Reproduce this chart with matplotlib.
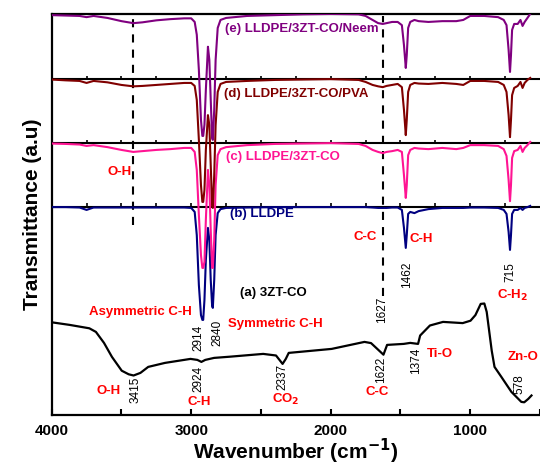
import numpy as np
import matplotlib
matplotlib.use("Agg")
import matplotlib.pyplot as plt

plt.rcParams['font.family'] = ['Liberation Sans', 'DejaVu Sans']

# wavenumber grid shared by the LLDPE film spectra (cm-1)
wn_film = [4000, 3900, 3800, 3750, 3700, 3600, 3500, 3415, 3350, 3250,
           3150, 3050, 3000, 2975, 2960, 2945, 2930, 2920, 2914, 2905,
           2895, 2880, 2870, 2860, 2850, 2845, 2835, 2825, 2810, 2790,
           2750, 2600, 2400, 2200, 2000, 1800, 1750, 1700, 1660, 1627,
           1600, 1560, 1520, 1490, 1475, 1462, 1455, 1445, 1430, 1400,
           1370, 1300, 1200, 1100, 1050, 1000, 900, 800, 760, 740,
           725, 715, 708, 700, 685, 660, 640, 625, 610, 590, 570]

# stacked transmittance (a.u.)
t_neem = [100.1, 100.0, 99.9, 99.6, 99.9, 99.4, 98.6, 98.1, 98.3, 98.8,
          99.1, 99.3, 99.3, 98.4, 95.2, 86.4, 73.9, 69.9, 69.9, 72.7,
          81.4, 92.2, 88.9, 78.9, 69.4, 68.9, 76.4, 88.9, 96.9, 98.9,
          99.4, 99.9, 100.1, 100.3, 100.4, 100.3, 99.9, 98.9, 98.1, 97.9,
          98.1, 98.4, 98.4, 97.6, 92.6, 86.9, 90.1, 96.9, 98.4, 98.9,
          98.6, 98.4, 98.6, 98.6, 98.9, 99.9, 99.9, 99.6, 98.9, 97.6,
          91.4, 85.9, 90.1, 96.4, 97.9, 97.9, 98.9, 97.4, 98.4, 99.4, 100.4]

t_pva = [84.0, 83.8, 83.65, 83.15, 83.65, 83.3, 82.65, 82.3, 82.4, 82.65,
         82.9, 83.15, 83.15, 82.4, 78.9, 68.9, 57.6, 53.4, 53.4, 56.4,
         66.4, 75.1, 72.6, 62.6, 52.6, 51.9, 60.1, 72.6, 80.9, 82.9,
         83.4, 83.65, 83.9, 84.0, 84.1, 83.9, 83.4, 82.65, 82.3, 82.1,
         82.4, 82.65, 82.9, 82.1, 76.4, 70.1, 73.9, 80.9, 82.65, 83.15,
         83.0, 82.9, 83.15, 82.9, 82.65, 83.65, 83.65, 83.4, 82.65, 80.9,
         75.1, 69.6, 73.9, 80.1, 81.9, 82.4, 83.4, 81.9, 83.15, 83.9, 84.4]

t_zt = [68.0, 67.9, 67.75, 67.4, 67.6, 67.1, 66.4, 65.9, 66.1, 66.4,
        66.6, 66.9, 66.9, 65.9, 61.4, 50.1, 40.1, 36.9, 36.9, 38.4,
        48.9, 61.4, 57.6, 46.4, 36.9, 36.9, 43.9, 57.6, 65.1, 66.6,
        67.1, 67.6, 67.9, 68.0, 68.1, 67.9, 67.4, 66.4, 65.9, 65.6,
        65.9, 66.1, 66.4, 65.9, 60.1, 54.4, 57.6, 65.1, 66.4, 66.9,
        66.75, 66.6, 66.9, 66.6, 66.9, 67.6, 67.6, 67.4, 66.6, 64.9,
        58.9, 53.6, 57.6, 64.4, 66.1, 66.4, 67.4, 65.9, 66.9, 67.6, 68.4]

t_lldpe = [52.1, 52.1, 52.0, 51.4, 52.0, 52.0, 52.0, 52.0, 52.0, 52.0,
           52.0, 52.0, 51.9, 50.9, 45.1, 32.6, 25.1, 23.9, 23.9, 28.9,
           38.9, 46.9, 43.9, 33.9, 27.4, 26.9, 33.9, 45.1, 50.6, 51.6,
           51.9, 52.0, 52.1, 52.1, 52.1, 52.1, 52.1, 52.0, 51.9, 51.9,
           51.9, 52.0, 52.0, 51.4, 46.9, 41.9, 45.1, 50.4, 50.9, 50.6,
           51.1, 51.6, 51.9, 51.9, 51.9, 52.0, 52.0, 51.9, 51.4, 50.4,
           45.9, 41.4, 45.1, 50.4, 51.4, 51.4, 51.9, 51.4, 51.9, 52.1, 52.4]

# 3ZT-CO powder spectrum
wn_powder = [4000, 3871, 3730, 3683, 3625, 3568, 3498, 3448, 3413, 3364,
             3308, 3188, 3005, 2956, 2927, 2899, 2836, 2723, 2484, 2392,
             2345, 2322, 2301, 1993, 1758, 1711, 1674, 1622, 1596, 1477,
             1430, 1374, 1359, 1289, 1195, 1054, 998, 963, 925, 899,
             882, 846, 826, 777, 705, 634, 613, 584, 561]
t_powder = [23.3, 22.65, 21.8, 20.9, 18.15, 14.65, 11.2, 10.3, 10.0, 10.65,
            12.15, 13.15, 14.15, 13.9, 13.4, 13.9, 14.4, 14.7, 15.4, 15.0,
            12.9, 14.15, 15.65, 16.65, 18.4, 18.1, 16.9, 15.2, 17.65, 17.9,
            18.15, 17.9, 20.0, 22.5, 23.4, 23.1, 23.7, 25.1, 27.9, 28.0,
            25.9, 16.2, 12.15, 9.65, 5.9, 3.4, 3.3, 4.15, 5.0]

baselines = [84.1, 68.1, 52.25]
ticks_250 = np.arange(4000, 700, -250)

fig = plt.figure(figsize=(5.4, 4.68), dpi=100)
ax = fig.add_axes([0.0957, 0.1122, 0.9043, 0.858])

# panel separators with small inward ticks
for b in baselines:
    ax.axhline(b, color='black', lw=1.5, zorder=1)
    ax.vlines(ticks_250, b, b + 0.9, color='black', lw=1.2, zorder=1)

ax.plot(wn_powder, t_powder, color='black', lw=1.6, zorder=3)
ax.plot(wn_film, t_lldpe, color='#000080', lw=1.5, zorder=3)
ax.plot(wn_film, t_zt, color='#ff1493', lw=1.5, zorder=4)
ax.plot(wn_film, t_pva, color='#800000', lw=1.5, zorder=5)
ax.plot(wn_film, t_neem, color='#800080', lw=1.5, zorder=6)

# dashed guides
ax.vlines(3415, 47.6, 100.0, color='black', lw=1.5, linestyles=(0, (3.9, 3.4)), zorder=2)
ax.vlines(1627, 29.9, 100.0, color='black', lw=1.5, linestyles=(0, (3.9, 3.4)), zorder=2)

# trace labels
lab = dict(fontsize=9.5, fontweight='bold', va='center', ha='left')
ax.text(2755, 96.65, '(e) LLDPE/3ZT-CO/Neem', color='#800080', **lab)
ax.text(2763, 80.4, '(d) LLDPE/3ZT-CO/PVA', color='#800000', **lab)
ax.text(2748, 64.65, '(c) LLDPE/3ZT-CO', color='#ff1493', **lab)
ax.text(2720, 50.4, '(b) LLDPE', color='#000080', **lab)
ax.text(2653, 30.65, '(a) 3ZT-CO', color='black', **lab)

# band assignments
red = dict(fontsize=9.5, fontweight='bold', color='red', va='center', ha='center')
ax.text(3512, 60.9, 'O-H', **red)
ax.text(3363, 25.9, 'Asymmetric C-H', **red)
ax.text(2399, 22.9, 'Symmetric C-H', **red)
ax.text(3589, 6.15, 'O-H', **red)
ax.text(2942, 3.4, 'C-H', **red)
ax.text(2322, 4.0, 'CO$_\\mathbf{2}$', **red)
ax.text(1667, 5.9, 'C-C', **red)
ax.text(1217, 15.4, 'Ti-O', **red)
ax.text(695, 29.9, 'C-H$_\\mathbf{2}$', **red)
ax.text(1751, 44.65, 'C-C', **red)
ax.text(1354, 44.15, 'C-H', **red)
ax.text(730, 14.65, 'Zn-O', **dict(red, ha='left'))

# peak positions
num = dict(fontsize=8.5, rotation=90, va='center', ha='center', color='black')
peaks = [(2949, 19.4, '2914'), (2815, 20.65, '2840'), (3399, 6.4, '3415'),
         (2949, 9.15, '2924'), (2343, 9.65, '2337'), (1639, 11.4, '1622'),
         (1392, 13.65, '1374'), (645, 7.9, '578'), (1632, 26.4, '1627'),
         (1456, 35.15, '1462'), (716, 35.9, '715')]
for x, y, s in peaks:
    ax.text(x, y, s, **num)

ax.set_xlim(4000, 561)
ax.set_ylim(0, 100.4)
ax.set_xticks([4000, 3000, 2000, 1000])
ax.set_xticks([3500, 2500, 1500, 500], minor=True)
ax.set_yticks([])
ax.tick_params(axis='x', which='both', direction='in', length=4, width=1.5,
               labelsize=11, pad=6)
for t in ax.get_xticklabels():
    t.set_fontweight('bold')
ax.spines['right'].set_visible(False)
for s in ['left', 'bottom', 'top']:
    ax.spines[s].set_linewidth(1.6)

ax.set_xlabel('Wavenumber (cm$^{\\mathbf{-1}}$)', fontsize=15, fontweight='bold', labelpad=-1)
ax.set_ylabel('Transmittance (a.u)', fontsize=15, fontweight='bold', labelpad=7)

fig.savefig('out.png', dpi=100)
